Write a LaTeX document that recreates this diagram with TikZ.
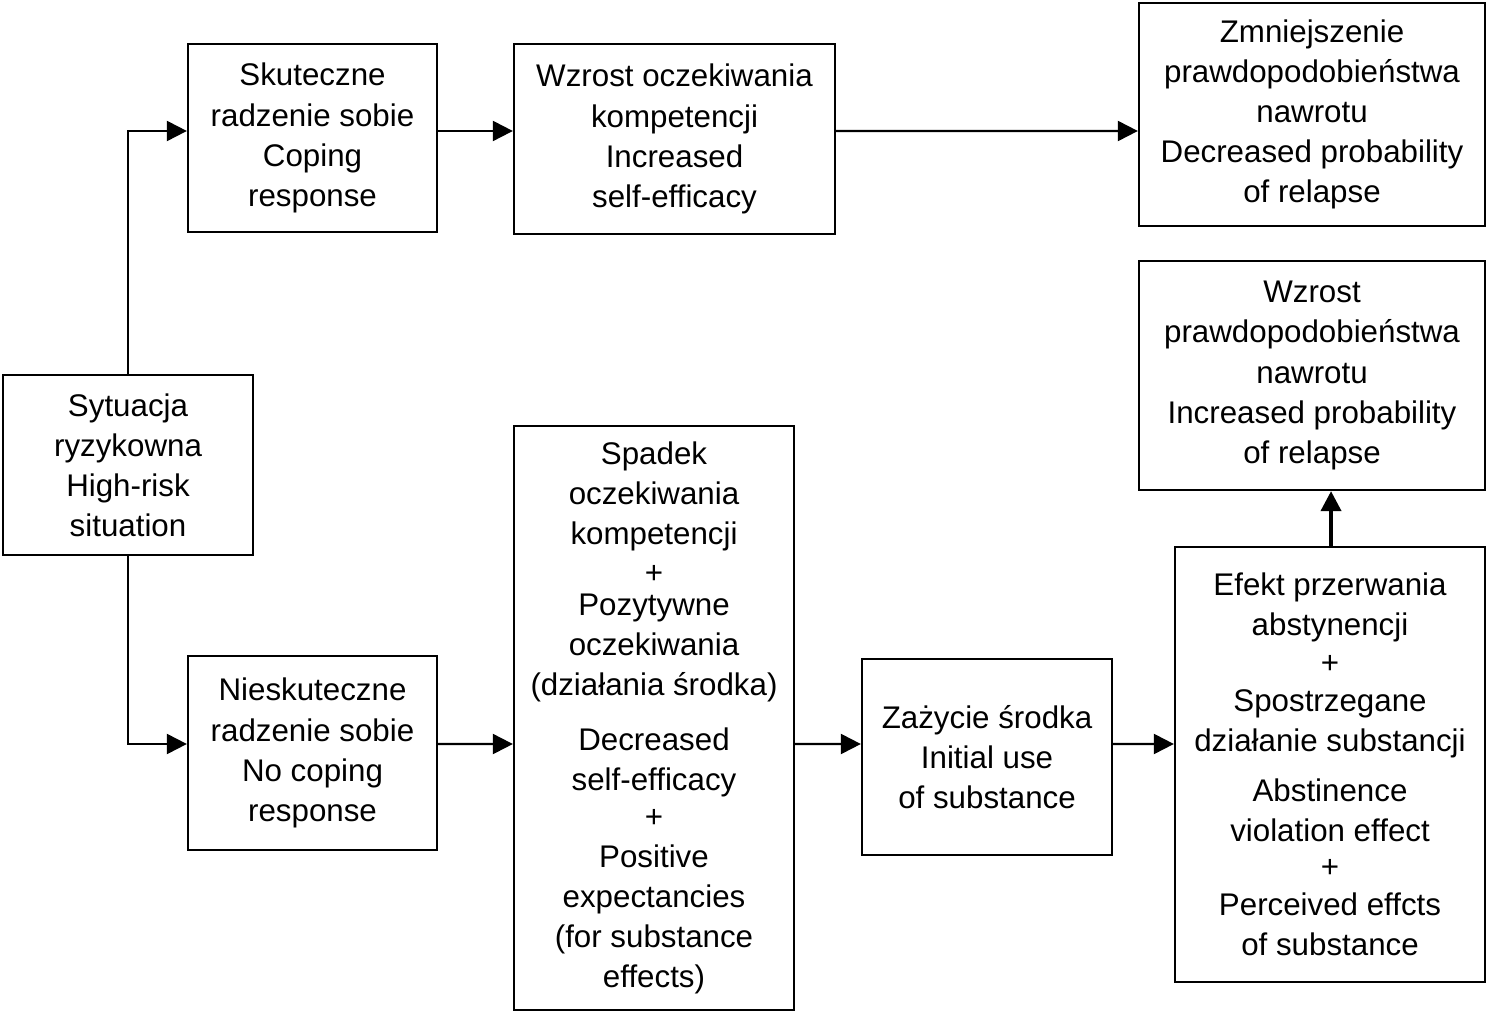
\documentclass[tikz,border=0pt]{standalone}
\usepackage{fontspec}
\setmainfont{Liberation Sans}
\usetikzlibrary{arrows.meta}
\begin{document}
\begin{tikzpicture}[x=0.01cm,y=-0.01cm,
  box/.style={draw,line width=0.6pt,inner sep=0pt,align=center,
    font=\fontsize{8.9}{11.4}\selectfont},
  arr/.style={line width=0.6pt,-{Triangle[length=0.2cm,width=0.2cm]}},
  thickarr/.style={line width=1.1pt,-{Triangle[length=0.2cm,width=0.2cm]}}]
\useasboundingbox (0,0) rectangle (1489,1019);
\node[box,minimum width=2.5cm,minimum height=1.8cm] (sit) at (128,465)
  {Sytuacja\\ryzykowna\\High-risk\\situation};
\node[box,minimum width=2.49cm,minimum height=1.88cm] (skut) at (312.5,138)
  {Skuteczne\\radzenie sobie\\Coping\\response};
\node[box,minimum width=3.21cm,minimum height=1.9cm] (wzr) at (674.5,139)
  {Wzrost oczekiwania\\kompetencji\\Increased\\self-efficacy};
\node[box,minimum width=3.46cm,minimum height=2.23cm] (zmn) at (1312,114.5)
  {Zmniejszenie\\prawdopodobieństwa\\nawrotu\\Decreased probability\\of relapse};
\node[box,minimum width=3.46cm,minimum height=2.29cm] (wzp) at (1312,375.5)
  {Wzrost\\prawdopodobieństwa\\nawrotu\\Increased probability\\of relapse};
\node[box,minimum width=2.49cm,minimum height=1.94cm] (nie) at (312.5,753)
  {Nieskuteczne\\radzenie sobie\\No coping\\response};
\node[box,minimum width=2.8cm,minimum height=5.84cm] (spa) at (654,718)
  {Spadek\\oczekiwania\\kompetencji\\[-0.5pt]+\\[-2.2pt]Pozytywne\\oczekiwania\\(działania środka)\\[4.3pt]Decreased\\self-efficacy\\[-0.9pt]+\\[-0.2pt]Positive\\expectancies\\(for substance\\effects)};
\node[box,minimum width=2.5cm,minimum height=1.96cm] (zaz) at (987,757)
  {Zażycie środka\\Initial use\\of substance};
\node[box,minimum width=3.1cm,minimum height=4.35cm] (efe) at (1330,764.5)
  {Efekt przerwania\\abstynencji\\[-0.6pt]+\\[-0.6pt]Spostrzegane\\działanie substancji\\[2.8pt]Abstinence\\violation effect\\[-1.2pt]+\\[-0.5pt]Perceived effcts\\of substance};
\draw[arr] (sit.north) |- ([yshift=0.07cm]skut.west);
\draw[arr] ([yshift=0.07cm]skut.east) -- ([yshift=0.08cm]wzr.west);
\draw[arr] ([yshift=0.08cm]wzr.east) -- ([yshift=-0.165cm]zmn.west);
\draw[arr] (sit.south) |- ([yshift=0.09cm]nie.west);
\draw[arr] ([yshift=0.09cm]nie.east) -- ([yshift=-0.26cm]spa.west);
\draw[arr] ([yshift=-0.26cm]spa.east) -- ([yshift=0.13cm]zaz.west);
\draw[arr] ([yshift=0.13cm]zaz.east) -- ([yshift=0.205cm]efe.west);
\draw[thickarr] ([xshift=0.01cm]efe.north) -- ([xshift=0.19cm]wzp.south);
\end{tikzpicture}
\end{document}
